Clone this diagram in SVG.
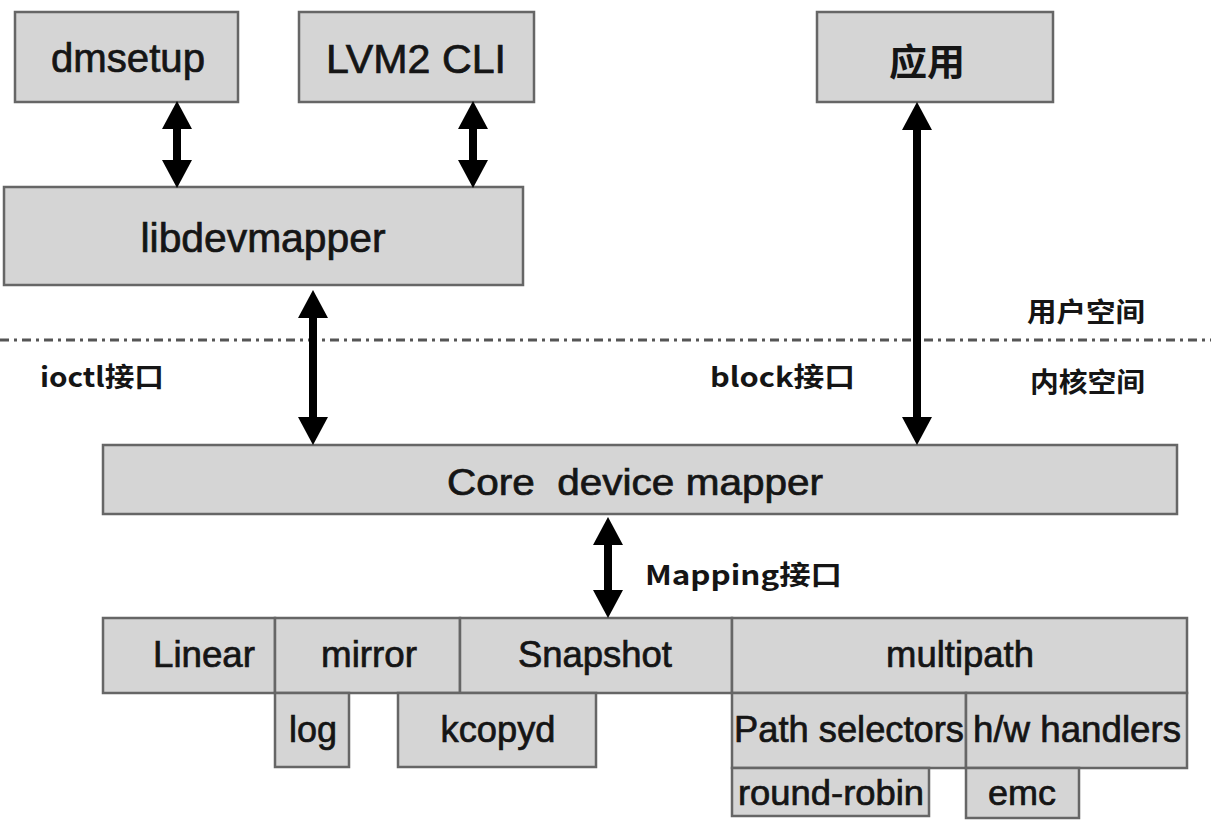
<svg xmlns="http://www.w3.org/2000/svg" width="1211" height="826" viewBox="0 0 1211 826">
<style>
.box{fill:#d5d5d5;stroke:#666;stroke-width:2.5}
.t{font-family:"Liberation Sans",Arial,sans-serif;font-size:36px;fill:#151515;stroke:#151515;stroke-width:0.7;text-anchor:middle}
.big{font-size:40px}
.s{font-size:35px}
.cjk{font-family:"Noto Sans CJK SC",sans-serif;font-weight:bold;fill:#151515}
.lbl{font-family:"Noto Sans CJK SC",sans-serif;font-weight:bold;font-size:27px;fill:#151515}
.ar{stroke:#000;stroke-width:8;fill:none;marker-start:url(#ah);marker-end:url(#ah)}
</style>
<defs>
<marker id="ah" markerUnits="userSpaceOnUse" markerWidth="28" markerHeight="30" refX="0" refY="15" orient="auto-start-reverse" viewBox="0 0 28 30" overflow="visible">
<path d="M0,0 L28,15 L0,30 z" fill="#000"/>
</marker>
</defs>
<rect width="1211" height="826" fill="#fff"/>

<g id="dmsetup"><rect class="box" x="15" y="12" width="223" height="90"/><text class="t big" x="128" y="72" textLength="154" lengthAdjust="spacingAndGlyphs">dmsetup</text></g>
<g id="lvm2cli"><rect class="box" x="299" y="12" width="235" height="90"/><text class="t big" x="416" y="73" textLength="180" lengthAdjust="spacingAndGlyphs">LVM2 CLI</text></g>
<g id="app"><rect class="box" x="817" y="12" width="236" height="90"/><text class="cjk" x="927" y="76" font-size="37" text-anchor="middle" textLength="76" lengthAdjust="spacingAndGlyphs">应用</text></g>
<g id="libdevmapper"><rect class="box" x="4" y="187" width="519" height="98"/><text class="t big" x="263" y="252" textLength="245" lengthAdjust="spacingAndGlyphs">libdevmapper</text></g>
<g id="core"><rect class="box" x="103" y="445" width="1074" height="69"/><text class="t" font-size="38" x="635" y="495" textLength="376" lengthAdjust="spacingAndGlyphs">Core&#160; device mapper</text></g>

<g id="linear"><rect class="box" x="103" y="618" width="172" height="75"/><text class="t" x="204" y="667" textLength="102" lengthAdjust="spacingAndGlyphs">Linear</text></g>
<g id="mirror"><rect class="box" x="275" y="618" width="185" height="75"/><text class="t" x="369" y="667" textLength="96" lengthAdjust="spacingAndGlyphs">mirror</text></g>
<g id="snapshot"><rect class="box" x="460" y="618" width="272" height="75"/><text class="t" x="595" y="667" textLength="154" lengthAdjust="spacingAndGlyphs">Snapshot</text></g>
<g id="multipath"><rect class="box" x="732" y="618" width="455" height="75"/><text class="t" x="960" y="667" textLength="148" lengthAdjust="spacingAndGlyphs">multipath</text></g>
<g id="log"><rect class="box" x="275" y="693" width="74" height="74"/><text class="t" x="313" y="742" textLength="48" lengthAdjust="spacingAndGlyphs">log</text></g>
<g id="kcopyd"><rect class="box" x="398" y="693" width="198" height="74"/><text class="t" x="498" y="742" textLength="115" lengthAdjust="spacingAndGlyphs">kcopyd</text></g>
<g id="pathselectors"><rect class="box" x="732" y="693" width="234" height="75"/><text class="t" x="849" y="742" textLength="230" lengthAdjust="spacingAndGlyphs">Path selectors</text></g>
<g id="hwhandlers"><rect class="box" x="966" y="693" width="221" height="75"/><text class="t" x="1077" y="742" textLength="208" lengthAdjust="spacingAndGlyphs">h/w handlers</text></g>
<g id="roundrobin"><rect class="box" x="732" y="768" width="197" height="48"/><text class="t s" x="831" y="805" textLength="186" lengthAdjust="spacingAndGlyphs">round-robin</text></g>
<g id="emc"><rect class="box" x="966" y="768" width="113" height="50"/><text class="t s" x="1022" y="805" textLength="68" lengthAdjust="spacingAndGlyphs">emc</text></g>

<g id="boundary">
<line x1="0" y1="340" x2="1211" y2="340" stroke="#555" stroke-width="3" stroke-dasharray="9 5 3 5"/>
<text class="lbl" x="1027" y="322" textLength="118" lengthAdjust="spacingAndGlyphs">用户空间</text>
<text class="lbl" x="1030" y="392" textLength="115" lengthAdjust="spacingAndGlyphs">内核空间</text>
</g>

<g id="connectors">
<line class="ar" x1="177" y1="129" x2="177" y2="160"/>
<line class="ar" x1="473" y1="129" x2="473" y2="160"/>
<line class="ar" x1="313" y1="318" x2="313" y2="417"/>
<line class="ar" x1="917" y1="130" x2="917" y2="417"/>
<line class="ar" x1="608" y1="545" x2="608" y2="590"/>
<text class="lbl" x="40" y="387" textLength="124" lengthAdjust="spacingAndGlyphs">ioctl接口</text>
<text class="lbl" x="710" y="387" textLength="145" lengthAdjust="spacingAndGlyphs">block接口</text>
<text class="lbl" x="645" y="585" textLength="197" lengthAdjust="spacingAndGlyphs">Mapping接口</text>
</g>
</svg>
